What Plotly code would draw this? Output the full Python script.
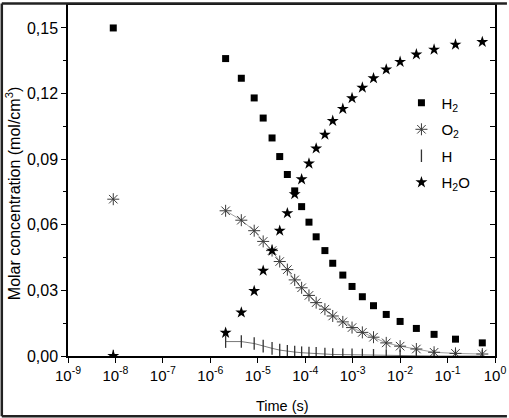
import plotly.graph_objects as go

# ---- data ----
time_s = [9e-9, 2.1e-6, 4.5e-6, 8.4e-6, 1.3e-5, 2.0e-5, 2.9e-5, 4.2e-5, 6.0e-5, 8.4e-5,
          1.2e-4, 1.7e-4, 2.6e-4, 3.8e-4, 6.2e-4, 9.7e-4, 1.6e-3, 2.75e-3, 5.1e-3,
          1.0e-2, 2.2e-2, 5.2e-2, 0.147, 0.54]
h2 = [0.150, 0.136, 0.127, 0.118, 0.1088, 0.0997, 0.0912, 0.083, 0.0755, 0.0683,
      0.0612, 0.0545, 0.0482, 0.0424, 0.037, 0.0318, 0.0271, 0.023, 0.019,
      0.0158, 0.0126, 0.0099, 0.0077, 0.006]
o2 = [0.0717, 0.0664, 0.0621, 0.0573, 0.0524, 0.0482, 0.0432, 0.0395, 0.0348, 0.0312,
      0.0277, 0.0244, 0.0214, 0.0183, 0.0156, 0.013, 0.0108, 0.0086, 0.006,
      0.0045, 0.0032, 0.0017, 0.0012, 0.0009]
h = [0.0, 0.0066, 0.0066, 0.0057, 0.0045, 0.0035, 0.0027, 0.0021, 0.0018, 0.0015,
     0.0014, 0.0012, 0.0009, 0.0007, 0.0006, 0.0005, 0.0004, 0.0003, 0.0002,
     0.0001, 0.0, 0.0, 0.0, 0.0]
h2o = [0.0, 0.0106, 0.0199, 0.0297, 0.039, 0.0482, 0.0573, 0.0653, 0.074, 0.0808,
       0.088, 0.0949, 0.1012, 0.1075, 0.113, 0.1179, 0.1227, 0.127, 0.131,
       0.1345, 0.1379, 0.1401, 0.1424, 0.1436]
x_tickvals = [1e-9, 1e-8, 1e-7, 1e-6, 1e-5, 1e-4, 1e-3, 1e-2, 1e-1, 1e0]
x_ticktext = ["10<sup>-9</sup>", "10<sup>-8</sup>", "10<sup>-7</sup>", "10<sup>-6</sup>",
              "10<sup>-5</sup>", "10<sup>-4</sup>", "10<sup>-3</sup>", "10<sup>-2</sup>",
              "10<sup>-1</sup>", "10<sup>0</sup>"]
y_tickvals = [0, 0.03, 0.06, 0.09, 0.12, 0.15]

FONT = "Arial"
W, H = 509, 418
ML, MR, MT, MB = 68, 12, 3, 62
PW, PH = W - ML - MR, H - MT - MB

def px_x(p):
    return (p - ML) / PW

def px_y(p):
    return (356 - p) / PH

fig = go.Figure()

# thin connecting lines (not in legend)
fig.add_trace(go.Scatter(x=time_s[1:], y=o2[1:], mode="lines",
                         line=dict(color="#8a8a8a", width=0.8),
                         showlegend=False, hoverinfo="skip"))
fig.add_trace(go.Scatter(x=time_s[1:], y=h[1:], mode="lines",
                         line=dict(color="#555555", width=0.8),
                         showlegend=False, hoverinfo="skip"))

fig.add_trace(go.Scatter(x=time_s, y=h2, mode="markers", name="H<sub>2</sub>",
                         legendgroup="a",
                         marker=dict(symbol="square", size=7, color="black")))
fig.add_trace(go.Scatter(x=time_s, y=o2, mode="markers", name="O<sub>2</sub>",
                         legendgroup="b",
                         marker=dict(symbol="asterisk-open", size=10, color="#3a3a3a",
                                     line=dict(width=1, color="#3a3a3a"))))
fig.add_trace(go.Scatter(x=time_s, y=h, mode="markers", name="H",
                         legendgroup="c",
                         marker=dict(symbol="line-ns-open", size=9, color="#333333",
                                     line=dict(width=1.3, color="#333333"))))
fig.add_trace(go.Scatter(x=time_s, y=h2o, mode="markers", name="H<sub>2</sub>O",
                         legendgroup="d",
                         marker=dict(symbol="star", size=9, color="black")))

# right axis ticks (inside)
fig.add_trace(go.Scatter(x=[None], y=[None], yaxis="y2", showlegend=False))

fig.update_layout(
    width=W, height=H,
    margin=dict(l=ML, r=MR, t=MT, b=MB),
    paper_bgcolor="white", plot_bgcolor="white",
    separators=",.",
    font=dict(family=FONT, size=15, color="black"),
    showlegend=True,
    legend=dict(x=px_x(403), y=px_y(85), xanchor="left", yanchor="top",
                bgcolor="rgba(0,0,0,0)", font=dict(size=15, family=FONT),
                tracegroupgap=4, itemwidth=30),
    xaxis=dict(type="log", range=[-9, 0], tickvals=x_tickvals, ticktext=x_ticktext,
               ticks="outside", ticklen=5, tickwidth=1.2, tickcolor="black",
               showline=True, linecolor="black", linewidth=1.5, mirror=True,
               showgrid=False, zeroline=False,
               tickfont=dict(size=15, family=FONT)),
    yaxis=dict(range=[0, 0.1605], tickvals=y_tickvals,
               tickformat=".2f", ticks="outside", ticklen=5, tickwidth=1.2,
               tickcolor="black", showline=True, linecolor="black", linewidth=1.5,
               mirror=True, showgrid=False, zeroline=False,
               minor=dict(tickvals=[0.015, 0.045, 0.075, 0.105, 0.135],
                          ticks="outside", ticklen=3, tickcolor="black", tickwidth=1.2),
               tickfont=dict(size=16, family=FONT)),
    yaxis2=dict(range=[0, 0.1605], overlaying="y", side="right",
                tickvals=[0.015, 0.03, 0.045, 0.06, 0.075, 0.09, 0.105, 0.12, 0.135, 0.15],
                ticks="inside", ticklen=5, tickwidth=1.2, tickcolor="black",
                showticklabels=False, showgrid=False, zeroline=False, showline=False),
)

# axis titles
fig.add_annotation(text="Time (s)", xref="paper", yref="paper",
                   x=px_x(283.5), y=px_y(406), xanchor="center", yanchor="middle",
                   showarrow=False, font=dict(size=14.5, family=FONT))
fig.add_annotation(text="Molar concentration (mol/cm<sup>3</sup>)", xref="paper", yref="paper",
                   x=px_x(13), y=px_y(193), xanchor="center", yanchor="middle",
                   textangle=-90, showarrow=False, font=dict(size=16, family=FONT))

# outer image frame (left, top, bottom)
lc = dict(color="#222222", width=2.5)
x_left = px_x(1.5)
x_right = px_x(509)
y_top = px_y(1.5)
y_bot = px_y(416.5)
fig.add_shape(type="line", xref="paper", yref="paper", x0=x_left, x1=x_left, y0=y_bot, y1=y_top, line=lc)
fig.add_shape(type="line", xref="paper", yref="paper", x0=x_left, x1=x_right, y0=y_top, y1=y_top, line=lc)
fig.add_shape(type="line", xref="paper", yref="paper", x0=x_left, x1=x_right, y0=y_bot, y1=y_bot, line=lc)

fig.write_html("out.html")
